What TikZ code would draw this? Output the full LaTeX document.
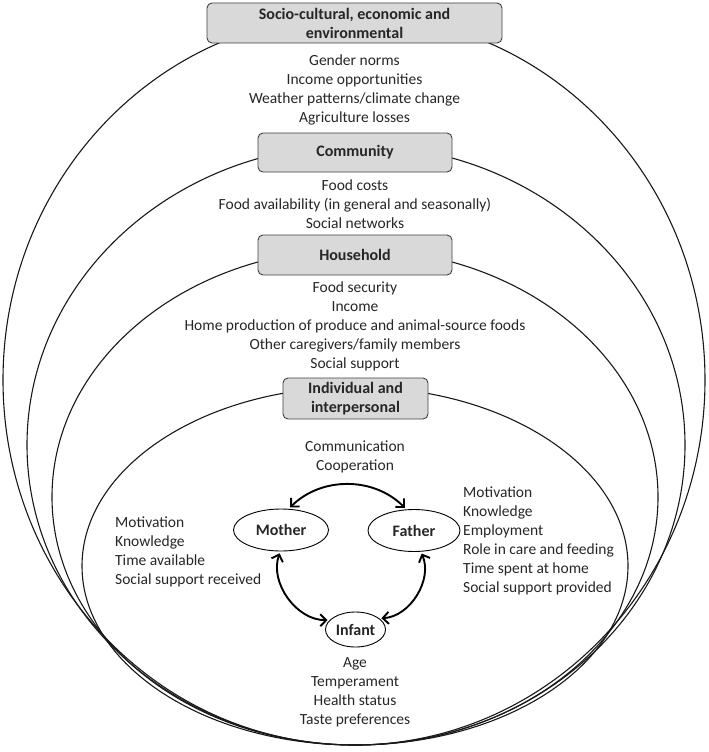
\documentclass[tikz,border=0pt]{standalone}
\usepackage{fontspec}
\setmainfont{Carlito}
\usetikzlibrary{arrows.meta,shapes.geometric}

\begin{document}
\begin{tikzpicture}[x=1pt,y=-1pt,
    ring/.style={draw=black!90,line width=1.1pt},
    head node/.style={draw=black!75,fill=black!15,rounded corners=5pt,line width=0.9pt,
        align=center,inner sep=0pt,text=black!85,font=\fontsize{16}{19}\selectfont\bfseries},
    list node/.style={align=center,inner sep=0pt,text=black!85,font=\fontsize{15.5}{19}\selectfont},
    main node/.style={ellipse,draw,line width=0.9pt,inner sep=0pt,text=black!85,
        font=\fontsize{16}{19}\selectfont\bfseries},
    link/.style={line width=1.9pt,shorten >=2pt,shorten <=2pt,
        arrows={Straight Barb[length=6pt,width=12pt]-Straight Barb[length=6pt,width=12pt]}}]
    \useasboundingbox (0,0) rectangle (709,752);

    % nested levels
    \draw[ring] (354,380) ellipse [x radius=351pt,y radius=365pt];
    \draw[ring] (356,445) ellipse [x radius=329pt,y radius=300pt];
    \draw[ring] (355,497) ellipse [x radius=303pt,y radius=248pt];
    \draw[ring] (355,566) ellipse [x radius=273pt,y radius=179pt];

    % level headers
    \node[head node,minimum width=295pt,minimum height=40pt] (society) at (354.5,23) {Socio-cultural, economic and\\environmental};
    \node[head node,minimum width=194pt,minimum height=39pt] (community) at (355,152.5) {Community};
    \node[head node,minimum width=194pt,minimum height=40pt] (household) at (355,255) {Household};
    \node[head node,minimum width=145pt,minimum height=41pt] (individual) at (355.5,398.5) {Individual and\\interpersonal};

    % factors
    \node[list node] (society list) at (354.5,90) {Gender norms\\Income opportunities\\Weather patterns/climate change\\Agriculture losses};
    \node[list node] (community list) at (355,204.5) {Food costs\\Food availability (in general and seasonally)\\Social networks};
    \node[list node] (household list) at (355,326.5) {Food security\\Income\\Home production of produce and animal-source foods\\Other caregivers/family members\\Social support};
    \node[list node] (couple list) at (355,456.5) {Communication\\Cooperation};
    \node[list node,align=left,anchor=west] (mother list) at (115,551.5) {Motivation\\Knowledge\\Time available\\Social support received};
    \node[list node,align=left,anchor=west] (father list) at (463,540.5) {Motivation\\Knowledge\\Employment\\Role in care and feeding\\Time spent at home\\Social support provided};
    \node[list node] (infant list) at (355,692) {Age\\Temperament\\Health status\\Taste preferences};

    % family
    \node[main node,minimum width=95pt,minimum height=42pt] (mother) at (281,530) {Mother};
    \node[main node,minimum width=92pt,minimum height=42pt] (father) at (414,530.5) {Father};
    \node[main node,minimum width=60pt,minimum height=35pt] (infant) at (355.5,629.5) {Infant};

    \path[link]
        (mother.70) edge[bend left=45] (father.110)
        (mother.268) edge[bend right=55] (infant.160)
        (father.288) edge[bend left=55] (infant.25);
\end{tikzpicture}
\end{document}
